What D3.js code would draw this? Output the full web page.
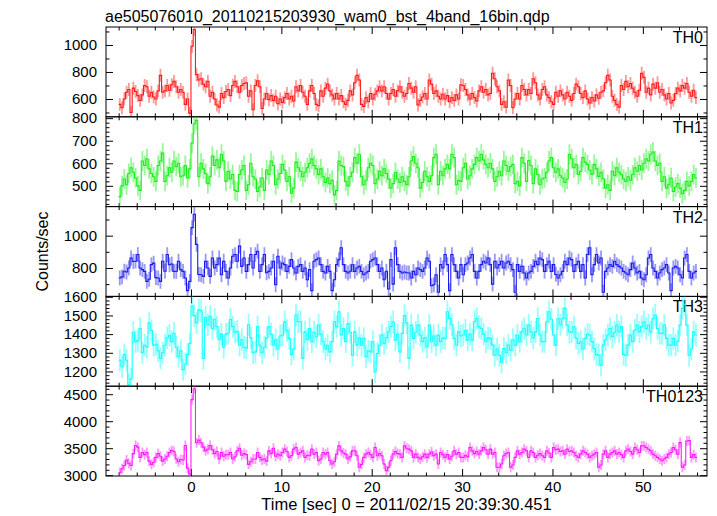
<!DOCTYPE html>
<html><head><meta charset="utf-8">
<script src="https://cdn.jsdelivr.net/npm/d3@7"></script>
<style>
body{margin:0;background:#fff}
svg{display:block}
text{font-family:"Liberation Sans",Arial,Helvetica,sans-serif;fill:#000}
</style>
</head><body>
<svg id="chart" width="717" height="516"></svg>
<script>
const titleText = "ae505076010_20110215203930_wam0_bst_4band_16bin.qdp";
const xLabel = "Time [sec] 0 = 2011/02/15 20:39:30.451";
const yLabel = "Counts/sec";
const bandNames = ["TH0", "TH1", "TH2", "TH3", "TH0123"];
const bandColors = ["#ff1a1a", "#1aee1a", "#1a1aee", "#1affff", "#ff1aff"];
const tStart = -8, binWidth = 0.25;

const th0 = [
560,535,600,650, 670,500,680,655, 625,590,630,700, 690,620,650,615,
600,660,775,650, 660,700,665,705, 730,690,650,670, 650,560,600,495,
990,1115,780,740, 750,710,690,730, 620,650,600,555, 540,640,610,655,
670,625,700,730, 690,650,700,715, 720,620,660,520, 700,735,690,530,
600,640,595,625, 590,620,565,600, 575,610,640,600, 620,585,690,660,
700,650,620,560, 660,700,640,560, 550,660,620,680, 710,660,630,600,
640,600,625,580, 560,590,660,630, 720,775,740,560, 545,610,580,640,
600,635,660,690, 660,690,640,600, 640,670,620,660, 690,650,620,640,
715,680,650,690, 555,590,615,640, 600,740,710,640, 660,620,600,635,
600,625,580,610, 590,630,600,705, 700,670,630,600, 640,610,585,660,
690,650,670,630, 640,790,750,690, 660,560,580,540, 740,700,535,600,
640,600,700,670, 630,670,640,750, 720,630,600,670, 690,630,610,580,
560,650,620,660, 630,600,650,620, 590,640,710,690, 640,610,660,600,
570,610,585,630, 605,650,660,720, 775,740,620,590, 560,540,700,670,
730,690,715,680, 650,620,665,790, 760,650,680,630, 710,680,720,650,
670,630,600,640, 570,590,640,680, 660,700,680,715, 650,620,665,610
];
const th1 = [
452,500,530,505, 555,580,560,535, 500,480,610,590, 620,575,555,540,
520,590,610,645, 520,545,580,560, 610,585,600,540, 545,590,535,575,
690,775,790,540, 600,575,555,510, 540,632,590,615, 580,640,610,520,
565,530,550,480, 475,550,570,590, 480,505,600,540, 530,475,495,535,
480,570,550,610, 590,505,530,555, 595,570,520,540, 467,490,605,580,
565,540,560,580, 600,620,590,575, 550,575,540,515, 535,510,525,460,
480,610,590,585, 520,500,540,560, 625,600,640,540, 505,525,580,600,
590,510,530,565, 545,575,555,530, 490,510,560,530, 515,540,520,505,
540,610,630,600, 580,490,515,565, 540,520,545,625, 640,505,565,545,
575,595,575,640, 625,505,525,520, 580,600,530,545, 575,595,625,610,
640,615,595,580, 600,575,520,540, 565,545,610,590, 565,585,595,510,
520,500,625,600, 520,612,590,510, 575,550,505,530, 535,560,610,625,
580,560,575,545, 535,515,530,640, 620,580,595,550, 565,625,605,595,
570,550,595,575, 542,560,530,490, 505,480,565,545, 580,560,550,530,
520,540,525,550, 580,565,590,570, 600,620,610,640, 650,610,590,600,
520,540,490,505, 535,475,495,510, 490,465,480,520, 500,520,550,535
];
const th2 = [
738,745,780,775, 800,862,840,842, 883,800,790,779, 717,730,821,830,
740,738,717,842, 780,883,820,825, 779,780,842,790, 779,738,660,717,
1050,1133,946,760, 758,748,842,800, 748,862,800,821, 862,758,842,779,
738,800,873,883, 842,935,810,862, 779,821,883,800, 883,904,779,821,
883,770,779,800, 842,696,873,800, 831,821,779,810, 852,800,769,810,
821,779,800,727, 790,660,842,852, 862,821,779,769, 810,779,660,727,
821,852,925,821, 779,769,780,820, 779,800,810,779, 758,769,779,842,
852,862,821,779, 800,727,780,670, 852,700,925,821, 779,769,775,770,
769,738,779,758, 800,790,779,800, 862,842,690,696, 758,650,821,800,
883,821,660,883, 821,779,738,821, 758,821,831,862, 883,779,738,779,
821,842,831,862, 821,700,842,800, 821,842,800,831, 842,821,790,650,
821,779,810,769, 738,769,779,810, 842,821,862,852, 779,821,842,779,
821,760,738,758, 779,842,821,862, 852,779,821,842, 779,821,738,883,
925,758,821,883, 831,862,650,779, 800,821,810,842, 821,810,800,779,
769,758,790,831, 800,769,779,738, 727,758,862,883, 800,779,738,769,
790,800,821,769, 660,800,810,800, 758,738,862,883, 779,738,769,779
];
const th3 = [
1260,1225,1290,1260, 1130,1160,1410,1360, 1365,1430,1300,1340, 1330,1460,1420,1340,
1345,1310,1270,1300, 1340,1380,1395,1360, 1405,1330,1280,1310, 1210,1240,1290,1350,
1550,1500,1460,1530, 1525,1270,1490,1450, 1495,1430,1480,1440, 1370,1400,1330,1400,
1405,1480,1440,1410, 1415,1340,1370,1330, 1325,1450,1380,1300, 1305,1440,1340,1300,
1330,1380,1440,1400, 1340,1370,1320,1390, 1395,1466,1420,1377, 1290,1320,1502,1466,
1466,1270,1412,1370, 1430,1359,1410,1385, 1448,1400,1359,1320, 1340,1305,1359,1466,
1440,1520,1395,1430, 1359,1457,1410,1287, 1412,1341,1380,1340, 1377,1279,1310,1305,
1359,1198,1296,1340, 1395,1350,1380,1412, 1440,1466,1368,1400, 1305,1404,1500,1460,
1270,1448,1377,1410, 1448,1395,1360,1380, 1332,1448,1359,1390, 1341,1395,1360,1380,
1377,1520,1484,1450, 1377,1340,1412,1390, 1395,1421,1368,1400, 1368,1466,1484,1440,
1430,1400,1359,1380, 1377,1341,1287,1320, 1287,1250,1323,1300, 1341,1314,1370,1340,
1395,1360,1412,1430, 1395,1448,1412,1380, 1412,1484,1395,1360, 1359,1466,1520,1480,
1395,1341,1484,1450, 1484,1538,1448,1410, 1412,1440,1377,1350, 1359,1320,1377,1400,
1395,1360,1323,1290, 1287,1234,1341,1370, 1395,1430,1386,1410, 1448,1412,1440,1290,
1287,1341,1395,1360, 1421,1448,1412,1440, 1466,1430,1448,1410, 1484,1502,1430,1404,
1404,1448,1377,1341, 1341,1377,1340,1362, 1448,1538,1560,1448, 1287,1320,1412,1395
];
const th0123 = [
3050,3120,3180,3280, 3220,3180,3400,3550, 3520,3330,3420,3380, 3420,3260,3200,3240,
3330,3400,3350,3260, 3300,3350,3420,3460, 3440,3300,3250,3290, 3280,3550,3130,3020,
4400,4600,3600,3650, 3600,3520,3450,3480, 3550,3470,3400,3440, 3300,3420,3350,3380,
3380,3420,3300,3340, 3450,3500,3370,3400, 3380,3200,3250,3300, 3300,3420,3330,3280,
3300,3260,3450,3400, 3500,3350,3390,3360, 3421,3482,3440,3329, 3360,3482,3512,3390,
3420,3451,3329,3370, 3360,3482,3390,3420, 3268,3300,3421,3390, 3420,3268,3207,3250,
3390,3543,3451,3410, 3390,3299,3340,3451, 3451,3360,3146,3200, 3329,3390,3421,3380,
3329,3512,3360,3400, 3360,3207,3085,3150, 3268,3390,3440,3400, 3390,3329,3543,3500,
3482,3451,3329,3390, 3329,3299,3340,3390, 3329,3390,3430,3360, 3390,3207,3421,3380,
3329,3380,3300,3350, 3451,3390,3420,3329, 3329,3370,3340,3512, 3451,3400,3440,3390,
3451,3512,3470,3390, 3482,3390,3420,3146, 3146,3207,3360,3400, 3421,3146,3190,3329,
3451,3390,3420,3482, 3450,3329,3451,3420, 3329,3370,3400,3360, 3329,3451,3410,3329,
3512,3470,3482,3440, 3451,3390,3482,3440, 3451,3420,3360,3329, 3390,3451,3420,3390,
3329,3360,3390,3420, 3146,3190,3390,3451, 3329,3390,3420,3451, 3390,3421,3380,3329,
3451,3482,3440,3390, 3512,3470,3421,3543, 3543,3512,3480,3451, 3390,3360,3330,3299,
3268,3300,3329,3390, 3421,3512,3470,3390, 3604,3146,3190,3634, 3640,3329,3380,3330
];
const seriesList = [th0, th1, th2, th3, th0123];
const bandErr = [48, 44, 46, 60, 92];

const xDomain = [-9.4, 57.1];
const xMajor = [0, 10, 20, 30, 40, 50];
const xMinorStep = 2;
const yDomains = [[468, 1133], [408, 806], [624, 1180], [1121, 1602], [2985, 4648]];
const yMajor = [[600, 800, 1000], [500, 600, 700, 800], [800, 1000], [1200, 1300, 1400, 1500, 1600], [3000, 3500, 4000, 4500]];
const yMinorStep = [100, 20, 100, 20, 100];

// ---------- layout ----------
const L = 106, R = 707, T = 27, B = 476;
const nP = seriesList.length;
const pH = (B - T) / nP;
const MAJ = 7, MIN = 3.5;

const svg = d3.select("#chart");
const x = d3.scaleLinear().domain(xDomain).range([L, R]);
const xMinorVals = d3.range(-8, 57, xMinorStep).filter(v => !xMajor.includes(v));

svg.append("text").attr("x", L - 1).attr("y", 22).attr("font-size", 16).text(titleText);

seriesList.forEach((vals, k) => {
  const top = T + k * pH, bot = top + pH;
  const y = d3.scaleLinear().domain(yDomains[k]).range([bot, top]);
  const col = bandColors[k];
  const err = bandErr[k];
  const g = svg.append("g");

  svg.append("clipPath").attr("id", "clip" + k)
    .append("rect").attr("x", L).attr("y", top).attr("width", R - L).attr("height", pH);
  const data = svg.append("g").attr("clip-path", `url(#clip${k})`);

  data.append("g").selectAll("line").data(vals).join("line")
    .attr("x1", (d, i) => x(tStart + (i + 0.5) * binWidth))
    .attr("x2", (d, i) => x(tStart + (i + 0.5) * binWidth))
    .attr("y1", d => y(d - err)).attr("y2", d => y(d + err))
    .attr("stroke", col).attr("stroke-opacity", 0.45).attr("stroke-width", 1.8);

  const pts = vals.map((v, i) => [tStart + i * binWidth, v]);
  pts.push([tStart + vals.length * binWidth, vals[vals.length - 1]]);
  data.append("path")
    .attr("d", d3.line().x(d => x(d[0])).y(d => y(d[1])).curve(d3.curveStepAfter)(pts))
    .attr("fill", "none").attr("stroke", col).attr("stroke-width", 1.1);

  const yMinorVals = d3.range(Math.ceil(yDomains[k][0] / yMinorStep[k]) * yMinorStep[k], yDomains[k][1], yMinorStep[k])
    .filter(v => !yMajor[k].includes(v));
  const mk = (gen, tr, vals2, size, labels, pad) => {
    const a = gen.tickValues(vals2).tickSize(-size).tickPadding(pad || 3)
      .tickFormat(labels ? d3.format("d") : "");
    const ga = g.append("g").attr("transform", tr).call(a);
    ga.select(".domain").remove();
    ga.selectAll("line").attr("stroke", "#000").attr("stroke-width", 1);
    ga.selectAll("text").attr("font-size", 15).attr("font-family", "Liberation Sans, Arial, sans-serif").attr("fill", "#000");
    return ga;
  };
  mk(d3.axisLeft(y), `translate(${L},0)`, yMajor[k], MAJ, true, 9);
  mk(d3.axisLeft(y), `translate(${L},0)`, yMinorVals, MIN, false);
  mk(d3.axisRight(y), `translate(${R},0)`, yMajor[k], MAJ, false);
  mk(d3.axisRight(y), `translate(${R},0)`, yMinorVals, MIN, false);
  mk(d3.axisTop(x), `translate(0,${top})`, xMajor, MAJ, false);
  mk(d3.axisTop(x), `translate(0,${top})`, xMinorVals, MIN, false);
  mk(d3.axisBottom(x), `translate(0,${bot})`, xMajor, MAJ, k === nP - 1, 5);
  mk(d3.axisBottom(x), `translate(0,${bot})`, xMinorVals, MIN, false);

  g.append("rect").attr("x", L).attr("y", top).attr("width", R - L).attr("height", pH)
    .attr("fill", "none").attr("stroke", "#000").attr("stroke-width", 1);

  g.append("text").attr("x", R - 4).attr("y", top + 16).attr("text-anchor", "end")
    .attr("font-size", 16).text(bandNames[k]);
});

svg.append("text").attr("x", (L + R) / 2).attr("y", 510).attr("text-anchor", "middle")
  .attr("font-size", 16.5).text(xLabel);
svg.append("text").attr("transform", `translate(48,${(T + B) / 2}) rotate(-90)`)
  .attr("text-anchor", "middle").attr("font-size", 16).text(yLabel);
</script>
</body></html>
